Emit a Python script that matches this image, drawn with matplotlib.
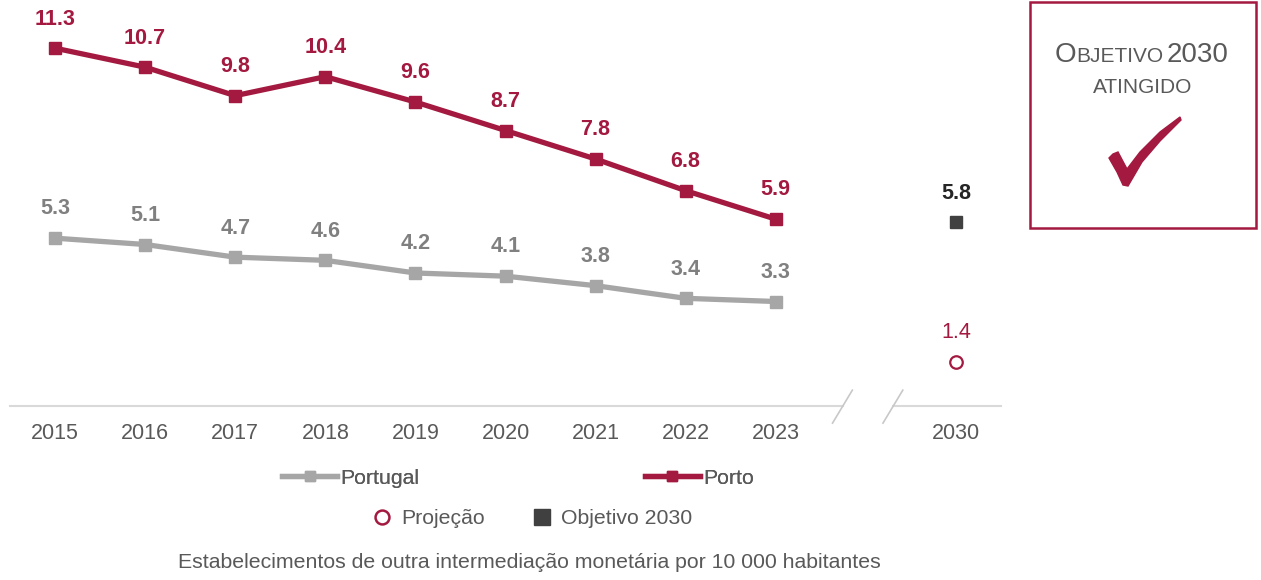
import matplotlib.pyplot as plt
from matplotlib.lines import Line2D
from matplotlib.patches import Rectangle, Polygon

plt.rcParams['font.family'] = ['Liberation Sans', 'DejaVu Sans']

# data
years = ['2015', '2016', '2017', '2018', '2019', '2020', '2021', '2022', '2023']
portugal = [5.3, 5.1, 4.7, 4.6, 4.2, 4.1, 3.8, 3.4, 3.3]
porto = [11.3, 10.7, 9.8, 10.4, 9.6, 8.7, 7.8, 6.8, 5.9]
target_year = '2030'
target_value = 5.8
projection_value = 1.4

crimson = '#A3193F'
grey_line = '#A6A6A6'
grey_lab = '#808080'
dark = '#404040'
txt = '#595959'

fig = plt.figure(figsize=(12.61, 5.80), dpi=100)
W, H = 1261, 580
ax = fig.add_axes([10 / W, (580 - 406) / H, 991 / W, 380 / H])

xs = list(range(len(years)))
x_target = len(years) + 1

ax.plot(xs, portugal, color=grey_line, lw=3.8, marker='s', ms=9, zorder=3)
ax.plot(xs, porto, color=crimson, lw=3.8, marker='s', ms=9, zorder=3)
ax.plot([x_target], [target_value], ls='none', marker='s', ms=9, color=dark)
ax.plot([x_target], [projection_value], ls='none', marker='o', ms=9,
        mfc='white', mec=crimson, mew=1.6)

lab_size = 15.5
for x, v in zip(xs, portugal):
    ax.annotate(f'{v:.1f}', (x, v), xytext=(0, 21), textcoords='offset points',
                ha='center', va='center', fontsize=lab_size, fontweight='bold', color=grey_lab)
for x, v in zip(xs, porto):
    ax.annotate(f'{v:.1f}', (x, v), xytext=(0, 21), textcoords='offset points',
                ha='center', va='center', fontsize=lab_size, fontweight='bold', color=crimson)
ax.annotate(f'{target_value:.1f}', (x_target, target_value), xytext=(0, 21),
            textcoords='offset points', ha='center', va='center', fontsize=lab_size,
            fontweight='bold', color='#262626')
ax.annotate(f'{projection_value:.1f}', (x_target, projection_value), xytext=(0, 21),
            textcoords='offset points', ha='center', va='center', fontsize=lab_size,
            color=crimson)

ax.set_xlim(-0.5, 10.5)
ax.set_ylim(0, 12)
for s in ax.spines.values():
    s.set_visible(False)
ax.set_yticks([])
ax.set_xticks(xs + [x_target])
ax.set_xticklabels(years + [target_year], fontsize=15.5, color=txt)
ax.tick_params(axis='x', length=0, pad=12)

# broken axis line
ax.plot([-0.5, 8.75], [0, 0], color='#D9D9D9', lw=1.5, clip_on=False, zorder=1)
ax.plot([9.3, 10.5], [0, 0], color='#D9D9D9', lw=1.5, clip_on=False, zorder=1)
ax.plot([8.63, 8.85], [-0.54, 0.5], color='#C8C8C8', lw=1.2, clip_on=False)
ax.plot([9.19, 9.41], [-0.54, 0.5], color='#C8C8C8', lw=1.2, clip_on=False)

# legends
h1 = [Line2D([], [], color=grey_line, lw=3.8, marker='s', ms=7),
      Line2D([], [], color=crimson, lw=3.8, marker='s', ms=7)]
leg1 = fig.legend(h1, ['Portugal', 'Porto'], loc='center', ncol=2,
                  bbox_to_anchor=(518 / W, 1 - 478 / H), frameon=False,
                  fontsize=15.3, handlelength=2.6, handletextpad=0.15,
                  columnspacing=10.6, labelcolor=txt)
h2 = [Line2D([], [], ls='none', marker='o', ms=10, mfc='white', mec=crimson, mew=1.8),
      Line2D([], [], ls='none', marker='s', ms=11, color=dark)]
leg2 = fig.legend(h2, ['Projeção', 'Objetivo 2030'], loc='center', ncol=2,
                  bbox_to_anchor=(532 / W, 1 - 519 / H), frameon=False,
                  fontsize=15.3, handlelength=1.0, handletextpad=0.4,
                  columnspacing=2.2, labelcolor=txt)
fig.add_artist(leg1)

fig.text(529 / W, 1 - 563 / H,
         'Estabelecimentos de outra intermediação monetária por 10 000 habitantes',
         ha='center', va='center', fontsize=15.3, color=txt)

# objective box
fig.add_artist(Rectangle((1030 / W, 1 - 228 / H), 226 / W, 226 / H,
                         transform=fig.transFigure, fill=False,
                         edgecolor=crimson, lw=1.8))
fig.text(1076 / W, 1 - 62 / H, 'O', ha='right', va='baseline', fontsize=20, color=txt)
fig.text(1076 / W, 1 - 62 / H, 'BJETIVO', ha='left', va='baseline', fontsize=15, color=txt)
fig.text(1229 / W, 1 - 62 / H, '2030', ha='right', va='baseline', fontsize=20, color=txt)
fig.text(1143 / W, 1 - 93 / H, 'ATINGIDO', ha='center', va='baseline', fontsize=15, color=txt)

# check mark
check = [(1109, 158), (1113, 154), (1118, 152), (1127, 169), (1140, 152),
         (1160, 132), (1180, 117), (1181, 120), (1160, 141), (1142, 162),
         (1128, 186), (1123, 185), (1117, 172)]
fig.add_artist(Polygon([(x / W, 1 - y / H) for x, y in check], closed=True,
                       transform=fig.transFigure, color=crimson))

fig.savefig('out.png', dpi=100)
